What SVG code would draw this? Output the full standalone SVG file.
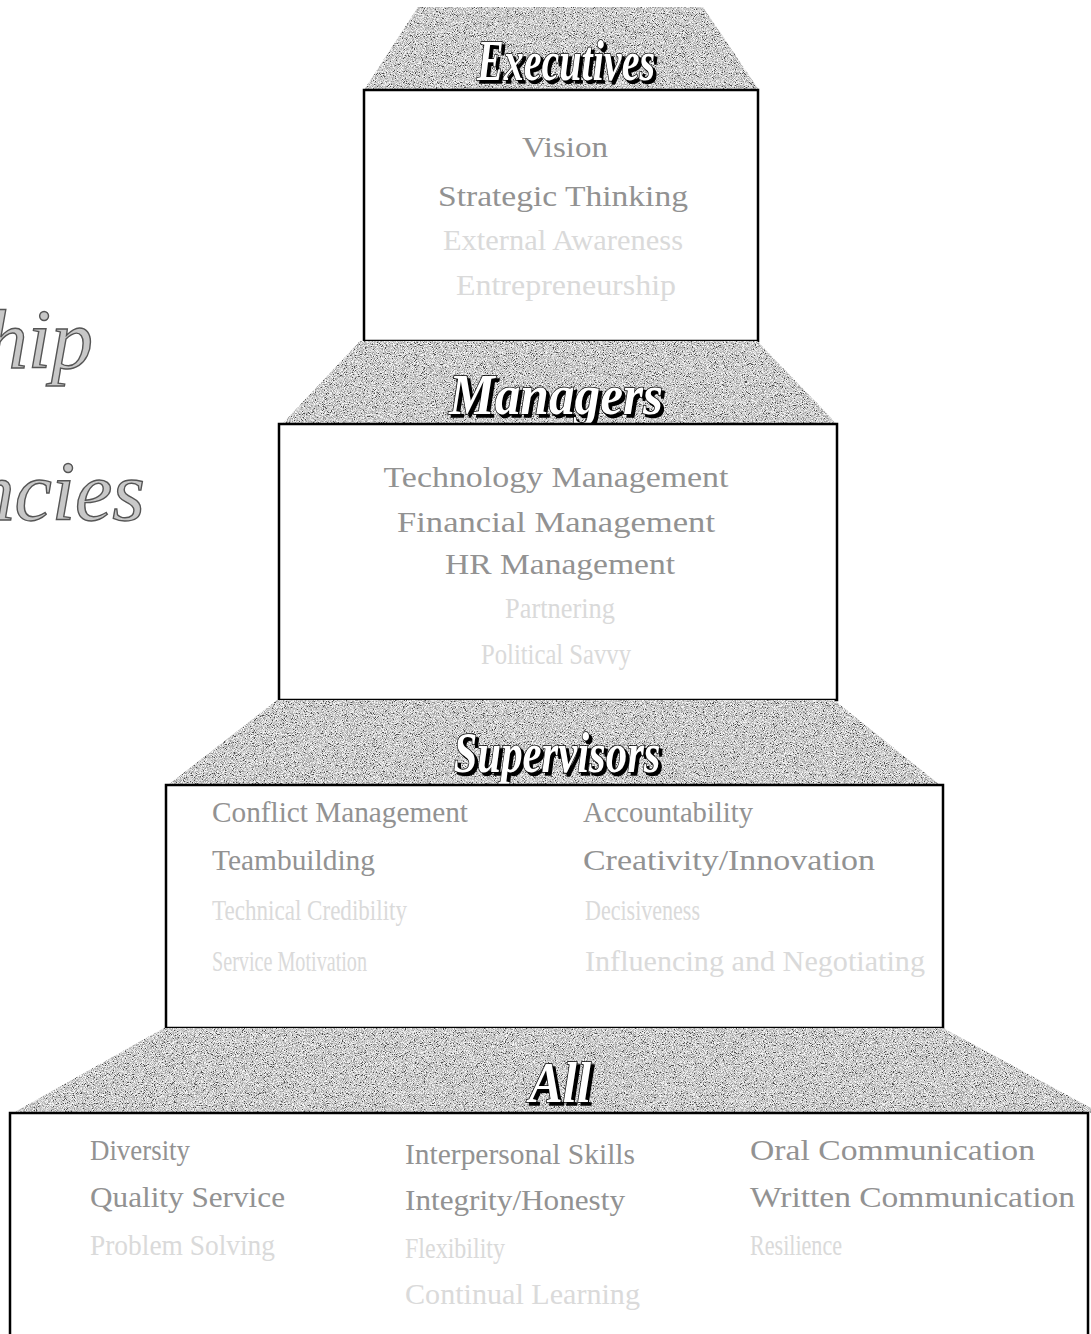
<svg xmlns="http://www.w3.org/2000/svg" width="1091" height="1334" viewBox="0 0 1091 1334">
  <style>
    .trap { fill: #a8a8a8; filter: url(#grain); }
    .box { fill: #ffffff; stroke: #000000; stroke-width: 2.5; }
    .tier-label { font-family: "Liberation Serif", "DejaVu Serif", serif; font-style: italic; font-weight: bold; font-size: 56px; text-anchor: middle; fill: #ffffff; stroke: #000000; stroke-width: 1.6; paint-order: stroke; filter: url(#lift); }
    .item { font-family: "Liberation Serif", "Times New Roman", serif; font-size: 30px; fill: #929292; }
    .faint { fill: #dadada; }
    .mid { text-anchor: middle; }
    .title { font-family: "Liberation Serif", "DejaVu Serif", serif; font-style: italic; font-size: 84px; fill: #c8c8c8; stroke: #555555; stroke-width: 1.4; text-anchor: end; }
  </style>
  <defs>
    <!-- speckled grey texture for the tier headers -->
    <filter id="grain" x="0" y="0" width="100%" height="100%" color-interpolation-filters="sRGB">
      <feTurbulence type="fractalNoise" baseFrequency="1.1" numOctaves="2" seed="7" result="noise"/>
      <feColorMatrix in="noise" type="matrix" values="1 0 0 0 0  1 0 0 0 0  1 0 0 0 0  0 0 0 0 1" result="grey"/>
      <feComponentTransfer in="grey" result="contrast">
        <feFuncR type="linear" slope="2.0" intercept="-0.45"/>
        <feFuncG type="linear" slope="2.0" intercept="-0.45"/>
        <feFuncB type="linear" slope="2.0" intercept="-0.45"/>
      </feComponentTransfer>
      <feComponentTransfer in="contrast" result="steps">
        <feFuncR type="discrete" tableValues="0.3 0.6 0.72 0.82 0.9 0.97"/>
        <feFuncG type="discrete" tableValues="0.3 0.6 0.72 0.82 0.9 0.97"/>
        <feFuncB type="discrete" tableValues="0.3 0.6 0.72 0.82 0.9 0.97"/>
      </feComponentTransfer>
      <feComposite in="steps" in2="SourceGraphic" operator="in"/>
    </filter>
    <!-- hard black drop shadow behind the tier names -->
    <filter id="lift" x="-10%" y="-20%" width="130%" height="150%">
      <feDropShadow dx="3" dy="3" stdDeviation="0.4" flood-color="#000000" flood-opacity="1"/>
    </filter>
  </defs>

  <!-- partial page title at the left margin -->
  <g id="title">
    <text class="title" x="93" y="368">Leadership</text>
    <text class="title" x="145" y="520">Competencies</text>
  </g>

  <!-- Executives tier -->
  <g id="executives">
    <polygon class="trap" points="418,7 703,7 759,90 364,90"/>
    <text class="tier-label" x="566" y="80" textLength="178" lengthAdjust="spacingAndGlyphs">Executives</text>
    <rect class="box" x="364" y="90" width="394" height="251"/>
    <text class="item mid" x="565" y="157" textLength="86" lengthAdjust="spacingAndGlyphs">Vision</text>
    <text class="item mid" x="563" y="206" textLength="250" lengthAdjust="spacingAndGlyphs">Strategic Thinking</text>
    <text class="item mid faint" x="563" y="250" textLength="240" lengthAdjust="spacingAndGlyphs">External Awareness</text>
    <text class="item mid faint" x="566" y="295" textLength="220" lengthAdjust="spacingAndGlyphs">Entrepreneurship</text>
  </g>

  <!-- Managers tier -->
  <g id="managers">
    <polygon class="trap" points="360,341 757,341 837,424 282,424"/>
    <text class="tier-label" x="556" y="414" textLength="214" lengthAdjust="spacingAndGlyphs">Managers</text>
    <rect class="box" x="279" y="424" width="558" height="276"/>
    <text class="item mid" x="556" y="487" textLength="345" lengthAdjust="spacingAndGlyphs">Technology Management</text>
    <text class="item mid" x="556" y="532" textLength="318" lengthAdjust="spacingAndGlyphs">Financial Management</text>
    <text class="item mid" x="560" y="574" textLength="230" lengthAdjust="spacingAndGlyphs">HR Management</text>
    <text class="item mid faint" x="560" y="618" textLength="110" lengthAdjust="spacingAndGlyphs">Partnering</text>
    <text class="item mid faint" x="556" y="664" textLength="150" lengthAdjust="spacingAndGlyphs">Political Savvy</text>
  </g>

  <!-- Supervisors tier -->
  <g id="supervisors">
    <polygon class="trap" points="277,700 834,700 940,785 168,785"/>
    <text class="tier-label" x="557" y="772" textLength="207" lengthAdjust="spacingAndGlyphs">Supervisors</text>
    <rect class="box" x="166" y="785" width="777" height="243"/>
    <text class="item" x="212" y="822" textLength="256" lengthAdjust="spacingAndGlyphs">Conflict Management</text>
    <text class="item" x="212" y="870" textLength="163" lengthAdjust="spacingAndGlyphs">Teambuilding</text>
    <text class="item faint" x="212" y="920" textLength="195" lengthAdjust="spacingAndGlyphs">Technical Credibility</text>
    <text class="item faint" x="212" y="971" textLength="155" lengthAdjust="spacingAndGlyphs">Service Motivation</text>
    <text class="item" x="583" y="822" textLength="170" lengthAdjust="spacingAndGlyphs">Accountability</text>
    <text class="item" x="583" y="870" textLength="292" lengthAdjust="spacingAndGlyphs">Creativity/Innovation</text>
    <text class="item faint" x="585" y="920" textLength="115" lengthAdjust="spacingAndGlyphs">Decisiveness</text>
    <text class="item faint" x="585" y="971" textLength="340" lengthAdjust="spacingAndGlyphs">Influencing and Negotiating</text>
  </g>

  <!-- All tier -->
  <g id="all">
    <polygon class="trap" points="164,1028 943,1028 1091,1108 1091,1113 13,1113"/>
    <text class="tier-label" x="560" y="1102" textLength="62" lengthAdjust="spacingAndGlyphs">All</text>
    <rect class="box" x="10" y="1113" width="1078" height="240"/>
    <text class="item" x="90" y="1160" textLength="100" lengthAdjust="spacingAndGlyphs">Diversity</text>
    <text class="item" x="90" y="1207" textLength="195" lengthAdjust="spacingAndGlyphs">Quality Service</text>
    <text class="item faint" x="90" y="1255" textLength="185" lengthAdjust="spacingAndGlyphs">Problem Solving</text>
    <text class="item" x="405" y="1164" textLength="230" lengthAdjust="spacingAndGlyphs">Interpersonal Skills</text>
    <text class="item" x="405" y="1210" textLength="220" lengthAdjust="spacingAndGlyphs">Integrity/Honesty</text>
    <text class="item faint" x="405" y="1258" textLength="100" lengthAdjust="spacingAndGlyphs">Flexibility</text>
    <text class="item faint" x="405" y="1304" textLength="235" lengthAdjust="spacingAndGlyphs">Continual Learning</text>
    <text class="item" x="750" y="1160" textLength="285" lengthAdjust="spacingAndGlyphs">Oral Communication</text>
    <text class="item" x="750" y="1207" textLength="325" lengthAdjust="spacingAndGlyphs">Written Communication</text>
    <text class="item faint" x="750" y="1255" textLength="92" lengthAdjust="spacingAndGlyphs">Resilience</text>
  </g>
</svg>
